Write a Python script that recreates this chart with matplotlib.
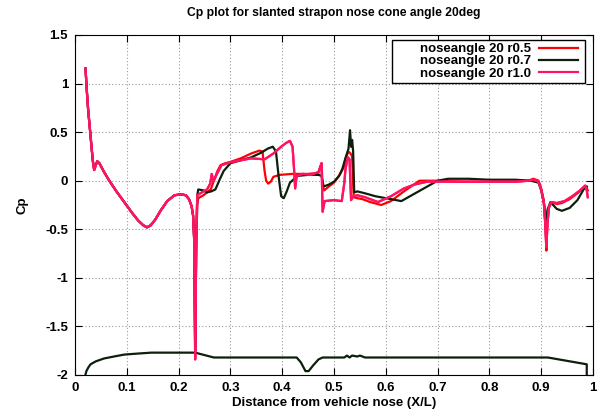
import matplotlib as mpl
mpl.use('Agg')
import matplotlib.pyplot as plt
from matplotlib.patches import Rectangle
import numpy as np

plt.rcParams['font.family'] = ['Liberation Sans', 'DejaVu Sans']
plt.rcParams['font.weight'] = 'bold'

# shared nose region (all three runs nearly identical up to x/L ~ 0.23)
nose_x = [0.0203, 0.0225, 0.0255, 0.029, 0.032, 0.0345, 0.037, 0.040, 0.043, 0.047, 0.055, 0.065,
          0.080, 0.095, 0.110, 0.122, 0.132, 0.139, 0.146, 0.155, 0.165, 0.178, 0.192, 0.205,
          0.214, 0.220, 0.225, 0.228, 0.230]
nose_y = [1.155, 0.95, 0.72, 0.52, 0.34, 0.20, 0.11, 0.16, 0.20, 0.18, 0.10, 0.01,
          -0.11, -0.22, -0.33, -0.41, -0.46, -0.48, -0.46, -0.40, -0.31, -0.21, -0.15, -0.14,
          -0.15, -0.19, -0.26, -0.36, -0.60]

# r0.5
r05_x = [0.232, 0.234, 0.236, 0.238, 0.248, 0.255, 0.262, 0.268, 0.275, 0.281, 0.290, 0.298,
         0.320, 0.340, 0.356, 0.362, 0.366, 0.369, 0.373, 0.378, 0.383, 0.395, 0.420, 0.450,
         0.470, 0.476, 0.478, 0.481, 0.490, 0.500, 0.507, 0.513, 0.519, 0.523, 0.528, 0.532,
         0.535, 0.538, 0.545, 0.555, 0.570, 0.591, 0.610, 0.635, 0.665, 0.700, 0.750, 0.800,
         0.850, 0.875, 0.885, 0.895, 0.900, 0.905, 0.908, 0.910, 0.912, 0.915, 0.920, 0.930,
         0.940, 0.955, 0.970, 0.980, 0.987, 0.990]
r05_y = [-1.70, -0.70, -0.25, -0.18, -0.15, -0.12, -0.09, 0.00, 0.10, 0.16, 0.18, 0.19,
         0.23, 0.28, 0.31, 0.30, 0.10, 0.00, -0.03, -0.01, 0.04, 0.06, 0.07, 0.07,
         0.08, 0.18, -0.05, -0.10, -0.06, -0.02, 0.03, 0.08, 0.14, 0.24, 0.30, 0.28,
         0.25, -0.17, -0.18, -0.19, -0.22, -0.25, -0.21, -0.11, 0.00, 0.00, -0.01, -0.01,
         -0.01, 0.00, 0.02, 0.00, -0.08, -0.20, -0.45, -0.72, -0.45, -0.28, -0.22, -0.24,
         -0.23, -0.19, -0.13, -0.08, -0.06, -0.10]

# r0.7
r07_x = [0.232, 0.234, 0.236, 0.238, 0.248, 0.255, 0.263, 0.271, 0.280, 0.287, 0.300, 0.320,
         0.340, 0.360, 0.372, 0.382, 0.388, 0.393, 0.398, 0.403, 0.408, 0.415, 0.430, 0.450,
         0.470, 0.476, 0.480, 0.490, 0.500, 0.510, 0.516, 0.522, 0.528, 0.531, 0.533, 0.535,
         0.537, 0.539, 0.545, 0.560, 0.580, 0.600, 0.630, 0.660, 0.700, 0.720, 0.760, 0.800,
         0.850, 0.880, 0.895, 0.900, 0.906, 0.909, 0.912, 0.918, 0.930, 0.940, 0.955, 0.970,
         0.983, 0.988]
r07_y = [-1.75, -0.60, -0.15, -0.09, -0.10, -0.12, -0.11, -0.09, 0.02, 0.10, 0.18, 0.21,
         0.24, 0.29, 0.33, 0.35, 0.30, 0.05, -0.16, -0.18, -0.12, -0.02, 0.05, 0.06,
         0.06, 0.05, -0.06, -0.04, -0.01, 0.05, 0.12, 0.23, 0.33, 0.52, 0.35, 0.42,
         0.30, -0.12, -0.11, -0.13, -0.16, -0.18, -0.21, -0.12, 0.00, 0.02, 0.02, 0.01,
         0.01, 0.00, -0.02, -0.10, -0.25, -0.50, -0.30, -0.22, -0.29, -0.31, -0.28, -0.20,
         -0.08, -0.06]

# r1.0
r10_x = [0.232, 0.234, 0.236, 0.245, 0.255, 0.261, 0.264, 0.267, 0.274, 0.283, 0.300, 0.320,
         0.340, 0.366, 0.383, 0.398, 0.408, 0.415, 0.420, 0.423, 0.425, 0.428, 0.440, 0.455,
         0.470, 0.476, 0.478, 0.482, 0.500, 0.515, 0.520, 0.522, 0.525, 0.527, 0.530, 0.533,
         0.537, 0.545, 0.560, 0.585, 0.610, 0.635, 0.655, 0.680, 0.720, 0.760, 0.800, 0.850,
         0.875, 0.885, 0.895, 0.900, 0.905, 0.908, 0.910, 0.912, 0.915, 0.920, 0.930, 0.945,
         0.960, 0.975, 0.985, 0.988, 0.990]
r10_y = [-1.84, -0.70, -0.15, -0.12, -0.09, -0.03, 0.07, -0.01, 0.07, 0.16, 0.19, 0.21,
         0.23, 0.22, 0.28, 0.35, 0.39, 0.41, 0.35, 0.11, -0.08, 0.05, 0.07, 0.06,
         0.09, 0.18, -0.32, -0.21, -0.20, -0.21, -0.02, 0.11, 0.20, 0.24, 0.22, -0.20,
         -0.16, -0.15, -0.17, -0.22, -0.16, -0.08, -0.04, -0.01, -0.01, -0.01, -0.01, -0.01,
         0.00, 0.01, -0.01, -0.09, -0.22, -0.45, -0.68, -0.45, -0.27, -0.22, -0.23, -0.21,
         -0.16, -0.10, -0.05, -0.10, -0.17]

# body outline drawn with the r0.7 file
body_x = [0.020, 0.022, 0.026, 0.030, 0.040, 0.056, 0.075, 0.095, 0.120, 0.147, 0.180, 0.232,
          0.268, 0.300, 0.428, 0.436, 0.445, 0.451, 0.460, 0.470, 0.478, 0.520, 0.525, 0.530,
          0.535, 0.545, 0.550, 0.560, 0.913, 0.988, 0.988]
body_y = [-2.00, -1.96, -1.92, -1.89, -1.86, -1.83, -1.81, -1.79, -1.78, -1.77, -1.77, -1.77,
          -1.82, -1.82, -1.82, -1.87, -1.96, -1.96, -1.90, -1.84, -1.82, -1.82, -1.80, -1.82,
          -1.80, -1.81, -1.80, -1.82, -1.82, -1.89, -2.00]

labels = ['noseangle 20 r0.5', 'noseangle 20 r0.7', 'noseangle 20 r1.0']
colors = ['#ff0000', '#0d1f0d', '#ff1464']

fig = plt.figure(figsize=(6.02, 4.18), dpi=100)
ax = fig.add_axes([0.1246, 0.1029, 0.8604, 0.8134])

series = [(r05_x, r05_y), (r07_x, r07_y), (r10_x, r10_y)]
for (sx, sy), c, lab in zip(series, colors, labels):
    ax.plot(nose_x + sx, nose_y + sy, color=c, lw=1.6, label=lab)
ax.plot(body_x, body_y, color=colors[1], lw=1.6)
# redraw r1.0 on top of outline
ax.plot(nose_x + r10_x, nose_y + r10_y, color=colors[2], lw=1.6)

ax.set_xlim(0, 1)
ax.set_ylim(-2, 1.5)
ax.set_xticks(np.arange(0, 1.01, 0.1))
ax.set_xticklabels(['0', '0.1', '0.2', '0.3', '0.4', '0.5', '0.6', '0.7', '0.8', '0.9', '1'])
ax.set_yticks(np.arange(-2, 1.51, 0.5))
ax.set_yticklabels(['-2', '-1.5', '-1', '-0.5', '0', '0.5', '1', '1.5'])
ax.tick_params(direction='in', top=True, right=True, length=5, labelsize=9.5, pad=5)
ax.grid(True, color='#999999', linestyle=(0, (1, 2)), lw=0.8)

ax.set_title('Cp plot for slanted strapon nose cone angle 20deg', fontsize=8.7,
             fontweight='bold', pad=14)
ax.set_xlabel('Distance from vehicle nose (X/L)', fontsize=9.5, fontweight='bold', labelpad=2)
ax.set_ylabel('Cp', fontsize=9.5, fontweight='bold', labelpad=12)

# gnuplot-style key box (wider than the text on the left)
keybox = Rectangle((0.612, 0.859), 0.3726, 0.126, transform=ax.transAxes,
                   facecolor='white', edgecolor='black', lw=1.0, zorder=4)
ax.add_patch(keybox)
leg = ax.legend(loc='upper right', bbox_to_anchor=(0.978, 0.988), markerfirst=False,
                fontsize=9.5, frameon=False, handlelength=2.9, labelspacing=0.0,
                borderpad=0.3, handletextpad=0.6, borderaxespad=0)
leg.set_zorder(5)
for t in leg.get_texts():
    t.set_fontweight('bold')

fig.savefig('out.png', dpi=100)
